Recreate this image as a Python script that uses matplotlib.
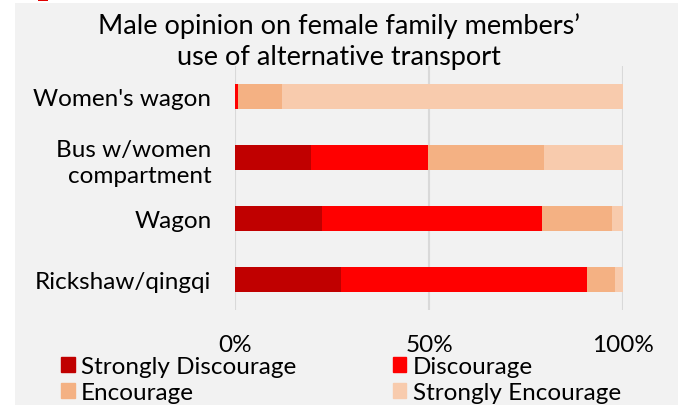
import matplotlib.pyplot as plt
import matplotlib.patches as mpatches
import numpy as np

categories = ["Women's wagon", "Bus w/women\ncompartment", "Wagon", "Rickshaw/qingqi"]
strongly_discourage = [0.0, 19.7, 22.5, 27.3]
discourage = [0.8, 30.1, 56.6, 63.4]
encourage = [11.4, 29.9, 17.9, 7.1]
strongly_encourage = [87.8, 20.3, 3.0, 2.2]
series_names = ["Strongly Discourage", "Discourage", "Encourage", "Strongly Encourage"]
colors = ["#C00000", "#FF0000", "#F4B183", "#F8CBAD"]

plt.rcParams['font.family'] = ['Lato', 'DejaVu Sans']

fig = plt.figure(figsize=(6.78, 4.06), dpi=100)
fig.patch.set_facecolor('white')
# grey chart panel and little red mark at the top
fig.patches.append(mpatches.Rectangle((15 / 678, 0), 1, 1 - 4 / 406, transform=fig.transFigure,
                                      facecolor='#F2F2F2', edgecolor='none', zorder=-10))
fig.patches.append(mpatches.Rectangle((38 / 678, 1 - 2 / 406), 10 / 678, 2 / 406, transform=fig.transFigure,
                                      facecolor='#E00000', edgecolor='none', zorder=-9))

ax = fig.add_axes([235 / 678, 1 - 311 / 406, (623.3 - 235) / 678, (311 - 67) / 406])
ax.set_facecolor('none')

y = np.arange(len(categories))
left = np.zeros(len(categories))
for vals, name, c in zip([strongly_discourage, discourage, encourage, strongly_encourage], series_names, colors):
    ax.barh(y, vals, left=left, height=0.4, color=c, label=name, linewidth=0, zorder=3)
    left += np.array(vals)

ax.set_xlim(0, 100)
ax.set_ylim(3.5, -0.5)
ax.set_yticks(y)
ax.set_yticklabels(categories, fontsize=17.5, linespacing=1.35)
ax.set_xticks([0, 50, 100])
ax.set_xticklabels(["0%", "50%", "100%"], fontsize=17.5)
ax.tick_params(axis='both', length=0)
ax.tick_params(axis='x', pad=17)
ax.tick_params(axis='y', pad=17)
ax.grid(axis='x', color='#D9D9D9', linewidth=1.5, zorder=0)
for s in ax.spines.values():
    s.set_visible(False)

fig.text(0.5, 1 - 42 / 406, "Male opinion on female family members\u2019\nuse of alternative transport",
         ha='center', va='center', fontsize=19.5, linespacing=1.3)

# legend fills column by column, so reorder to read row-wise
order = [0, 2, 1, 3]
handles = [mpatches.Patch(color=colors[i]) for i in order]
labels = [series_names[i] for i in order]
fig.legend(handles, labels, loc='lower left', bbox_to_anchor=(49 / 678, -10 / 406), ncol=2,
           frameon=False, fontsize=17.5, handlelength=0.55, handleheight=0.55, handletextpad=0.25,
           columnspacing=4.0, labelspacing=0.2, borderpad=0)

fig.savefig("out.png", dpi=100, facecolor=fig.get_facecolor())
